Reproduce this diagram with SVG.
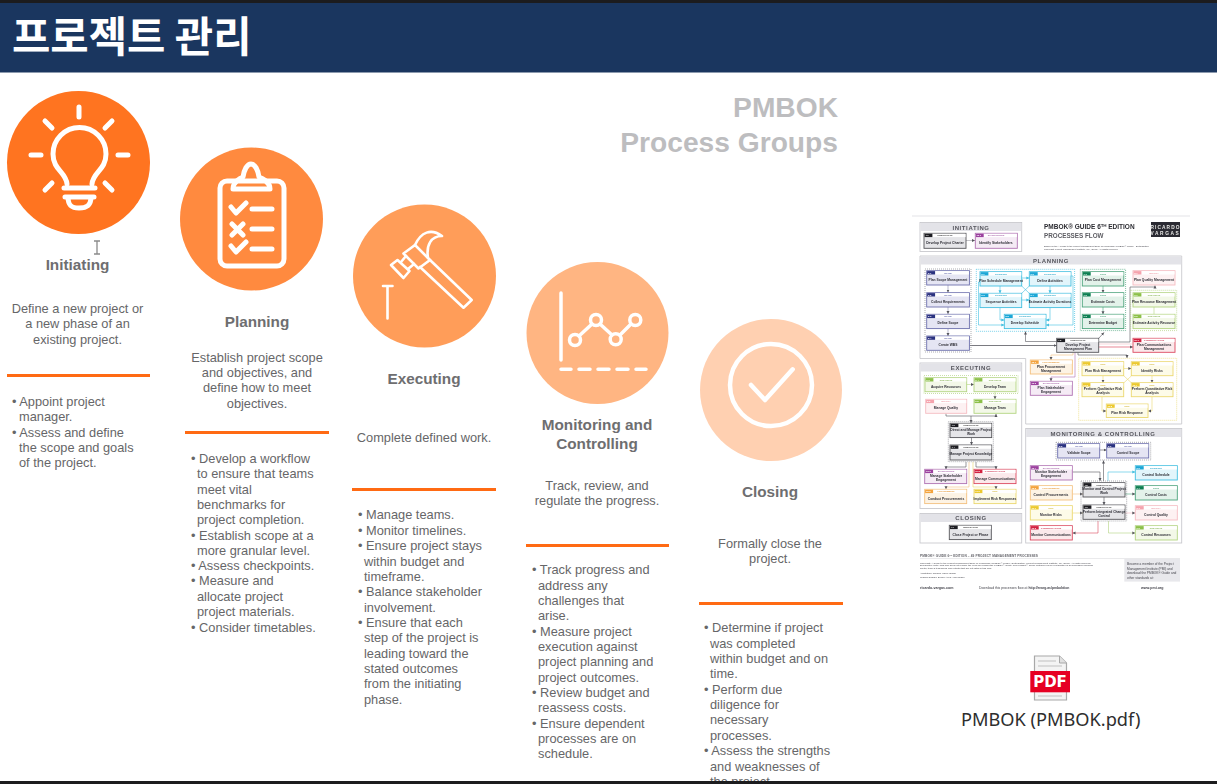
<svg xmlns="http://www.w3.org/2000/svg" width="1217" height="784" viewBox="0 0 1217 784">
<style>
text{font-family:"Liberation Sans",Arial,sans-serif}
.h1{font-size:15.3px;font-weight:700;fill:#6e6e70;text-anchor:middle}
.p{font-size:12.8px;fill:#666668;text-anchor:middle}
.l{font-size:12.8px;fill:#666668}
.rule{fill:#ff6a13}
.ic{fill:none;stroke:#fff;stroke-linecap:round;stroke-linejoin:round}
.pg{font-size:28.2px;font-weight:700;fill:#bdbdbf;text-anchor:end}
.pan{fill:#fff;stroke:#c9c9ce;stroke-width:.9}
.ph{fill:#e3e3e8}
.pt{font-size:6px;font-weight:700;fill:#55555c;text-anchor:middle;letter-spacing:.6px}
.dot{fill:none;stroke:#8a8a90;stroke-width:.7;stroke-dasharray:1 1}
.bx{stroke-width:.9}
.ln{fill:#fff;stroke:none}
.bl{font-size:3.3px;font-weight:700;fill:#2c2c34;text-anchor:middle}
.cat{font-size:2.2px;font-weight:700;text-anchor:middle}
.num{font-size:2.4px;font-weight:700;fill:#fff}
.c{fill:none;stroke-width:.6}
.scope .bx{fill:#e5e5f3;stroke:#6d70ad}.scope .tag{fill:#2c3180}.scope .cat{fill:#5a5fa8}
.sch .bx{fill:#e2f5fb;stroke:#42bfe0}.sch .tag{fill:#1ea7d6}.sch .cat{fill:#2aa5c8}
.cost .bx{fill:#e3f2ea;stroke:#4ca47c}.cost .tag{fill:#0f7f52}.cost .cat{fill:#3a9b6e}
.qual .bx{fill:#fdf1f2;stroke:#f5bcc2}.qual .tag{fill:#f5a3ad}.qual .cat{fill:#ee9aa4}
.res .bx{fill:#f3f8e8;stroke:#b3d482}.res .tag{fill:#8cc04a}.res .cat{fill:#8cb85a}
.int .bx{fill:#e5e5e8;stroke:#55555a}.int .tag{fill:#1c1c20}.int .cat{fill:#333}
.com .bx{fill:#fbe9eb;stroke:#dc4a60}.com .tag{fill:#d2203f}.com .cat{fill:#d2405a}
.pro .bx{fill:#fdf3e4;stroke:#f3c07e}.pro .tag{fill:#f3a33c}.pro .cat{fill:#e79b3a}
.sta .bx{fill:#f5ebf5;stroke:#b071b2}.sta .tag{fill:#9b3f9e}.sta .cat{fill:#a45ea6}
.rsk .bx{fill:#fdfbe8;stroke:#ebd870}.rsk .tag{fill:#ecc92f}.rsk .cat{fill:#d4b93a}
.ft{font-size:3px;fill:#44444c}
.fb{font-size:3.6px;font-weight:700;fill:#44444c}
</style>
<defs>
<marker id="a" markerWidth="4" markerHeight="4" refX="3" refY="2" orient="auto" markerUnits="userSpaceOnUse"><path d="M0,0.5L3,2L0,3.5z" fill="#55555c"/></marker>
<marker id="ac" markerWidth="4" markerHeight="4" refX="3" refY="2" orient="auto" markerUnits="userSpaceOnUse"><path d="M0,0.5L3,2L0,3.5z" fill="#42bfe0"/></marker>
<filter id="soft" x="0" y="0" width="100%" height="100%"><feGaussianBlur stdDeviation="0.4"/></filter>
</defs>
<rect width="1217" height="784" fill="#fff"/>
<g id="title-bar">
<rect y="0" width="1217" height="3" fill="#1c1c1e"/>
<rect y="3" width="1217" height="69.500" fill="#1a365f"/>
<text x="12" y="52" font-size="41.700" font-weight="700" fill="#fff" style="font-family:'Noto Sans CJK KR','Noto Sans',sans-serif">프로젝트 관리</text>
</g>
<g id="pmbok-heading">
<text class="pg" x="838" y="117">PMBOK</text>
<text class="pg" x="838" y="152">Process Groups</text>
</g>

<g id="initiating">
<circle cx="78.500" cy="162.500" r="71.500" fill="#ff7420"/>
<g class="ic" stroke-width="5">
<path d="M79,107V117M31,155H41M118,155H128M45,121L52,128M112,121L105,128M45,190L52,183M112,190L105,183"/>
<path d="M67,184C66,172 53,170 53,154A26.500,26.500 0 1 1 106,154C106,170 93,172 92,184"/>
<path d="M64,188H95M65,197H94M68,197C68,206 72,208 79,208C86,208 91,206 91,197"/>
</g>
<path d="M94,241H100M97,241V254M94,254H100" fill="none" stroke="#8a8a8a" stroke-width="1.300"/>
<text class="h1" x="77.500" y="270">Initiating</text>
<text class="p" x="77.500" y="313">Define a new project or</text>
<text class="p" x="77.500" y="328">a new phase of an</text>
<text class="p" x="77.500" y="344">existing project.</text>
<rect class="rule" x="7" y="374" width="143" height="3"/>
<text class="l" x="12" y="406">• Appoint project</text>
<text class="l" x="19" y="421">manager.</text>
<text class="l" x="12" y="437">• Assess and define</text>
<text class="l" x="19" y="452">the scope and goals</text>
<text class="l" x="19" y="467">of the project.</text>
</g>

<g id="planning">
<circle cx="251.500" cy="219" r="71.500" fill="#ff8a3f"/>
<g class="ic" stroke-width="5">
<rect x="220" y="181" width="64" height="85" rx="7"/>
<path d="M233,189H270C270,182 262,178 259,177C258,170 255,164 251,164C247,164 244,170 243,177C240,178 233,182 233,189Z"/>
<path d="M231,207L236,213L246,203M252,209H272M232,224L243,235M243,224L232,235M252,229H272M231,246L236,252L246,242M252,249H272"/>
</g>
<text class="h1" x="257" y="327">Planning</text>
<text class="p" x="257" y="362">Establish project scope</text>
<text class="p" x="257" y="377">and objectives, and</text>
<text class="p" x="257" y="392">define how to meet</text>
<text class="p" x="257" y="408">objectives.</text>
<rect class="rule" x="185" y="431" width="144" height="3"/>
<text class="l" x="191" y="463">• Develop a workflow</text>
<text class="l" x="197" y="478">to ensure that teams</text>
<text class="l" x="197" y="494">meet vital</text>
<text class="l" x="197" y="509">benchmarks for</text>
<text class="l" x="197" y="524">project completion.</text>
<text class="l" x="191" y="540">• Establish scope at a</text>
<text class="l" x="197" y="555">more granular level.</text>
<text class="l" x="191" y="570">• Assess checkpoints.</text>
<text class="l" x="191" y="585">• Measure and</text>
<text class="l" x="197" y="601">allocate project</text>
<text class="l" x="197" y="616">project materials.</text>
<text class="l" x="191" y="632">• Consider timetables.</text>
</g>

<g id="executing">
<circle cx="424.500" cy="276" r="71.500" fill="#ff9d59"/>
<g class="ic" stroke-width="2.600">
<path d="M430,260L471.700,300L463.500,307.700L420,267"/>
<path d="M403.500,253.500L415,245L430,260L418.500,268.500Z"/>
<path d="M415,245C421,232 431,228 442,236C431,236 426,245 428,258"/>
<path d="M391,265L397.500,260L409.500,271L403.500,278Z"/>
<path d="M401,262L406,256M408,269L414,264"/>
<path d="M383,286H392.500M387.500,286V318.500"/>
</g>
<text class="h1" x="424" y="384">Executing</text>
<text class="p" x="424" y="442">Complete defined work.</text>
<rect class="rule" x="352" y="488" width="144" height="3"/>
<text class="l" x="358" y="519">• Manage teams.</text>
<text class="l" x="358" y="535">• Monitor timelines.</text>
<text class="l" x="358" y="550">• Ensure project stays</text>
<text class="l" x="364" y="566">within budget and</text>
<text class="l" x="364" y="581">timeframe.</text>
<text class="l" x="358" y="596">• Balance stakeholder</text>
<text class="l" x="364" y="612">involvement.</text>
<text class="l" x="358" y="627">• Ensure that each</text>
<text class="l" x="364" y="642">step of the project is</text>
<text class="l" x="364" y="658">leading toward the</text>
<text class="l" x="364" y="673">stated outcomes</text>
<text class="l" x="364" y="688">from the initiating</text>
<text class="l" x="364" y="704">phase.</text>
</g>

<g id="monitoring">
<circle cx="597.500" cy="333" r="71" fill="#ffb582"/>
<g class="ic" stroke-width="3.500">
<path d="M561,293V360"/>
<path d="M561,369.300H571M579,369.300H590M598,369.300H609M617,369.300H628M636,369.300H646"/>
<circle cx="575" cy="340" r="5.500"/><circle cx="596" cy="320" r="5.500"/><circle cx="615.700" cy="339.300" r="5.500"/><circle cx="635.300" cy="320" r="5.500"/>
<path d="M579,336L592,324M600,324L612,335M620,335L631,324"/>
</g>
<text class="h1" x="597" y="430">Monitoring and</text>
<text class="h1" x="597" y="449">Controlling</text>
<text class="p" x="597" y="490">Track, review, and</text>
<text class="p" x="597" y="505">regulate the progress.</text>
<rect class="rule" x="526" y="544" width="143" height="3"/>
<text class="l" x="532" y="574">• Track progress and</text>
<text class="l" x="538" y="590">address any</text>
<text class="l" x="538" y="605">challenges that</text>
<text class="l" x="538" y="620">arise.</text>
<text class="l" x="532" y="636">• Measure project</text>
<text class="l" x="538" y="651">execution against</text>
<text class="l" x="538" y="666">project planning and</text>
<text class="l" x="538" y="682">project outcomes.</text>
<text class="l" x="532" y="697">• Review budget and</text>
<text class="l" x="538" y="712">reassess costs.</text>
<text class="l" x="532" y="728">• Ensure dependent</text>
<text class="l" x="538" y="743">processes are on</text>
<text class="l" x="538" y="758">schedule.</text>
</g>

<g id="closing">
<circle cx="771" cy="390" r="71" fill="#ffd0b1"/>
<g class="ic">
<circle cx="771" cy="385" r="41" stroke-width="4.500"/>
<path d="M751,385L765,400L792.700,369.300" stroke-width="4.500"/>
</g>
<text class="h1" x="770" y="497">Closing</text>
<text class="p" x="770" y="548">Formally close the</text>
<text class="p" x="770" y="563">project.</text>
<rect class="rule" x="699" y="602" width="144" height="3"/>
<text class="l" x="704" y="632">• Determine if project</text>
<text class="l" x="710" y="648">was completed</text>
<text class="l" x="710" y="663">within budget and on</text>
<text class="l" x="710" y="678">time.</text>
<text class="l" x="704" y="694">• Perform due</text>
<text class="l" x="710" y="709">diligence for</text>
<text class="l" x="710" y="724">necessary</text>
<text class="l" x="710" y="740">processes.</text>
<text class="l" x="704" y="755">• Assess the strengths</text>
<text class="l" x="710" y="771">and weaknesses of</text>
<text class="l" x="710" y="786">the project.</text>
</g>

<g id="flow-chart" filter="url(#soft)">
<rect x="912" y="215" width="278" height="385" fill="#fff"/>
<rect x="912" y="215" width="278" height="2" fill="#f1f1f3"/>
<g id="panels">
<rect class="pan" x="920" y="222.500" width="101.700" height="29"/><rect class="ph" x="920.500" y="223" width="100.700" height="8"/>
<text class="pt" x="971" y="229.500">INITIATING</text>
<path class="pan" d="M920,256H1181.700V424H1025.700V358.500H920Z"/><rect class="ph" x="920.500" y="256.500" width="260.700" height="8"/>
<text class="pt" x="1051" y="262.700">PLANNING</text>
<rect class="pan" x="920" y="363" width="101.700" height="145.500"/><rect class="ph" x="920.500" y="363.500" width="100.700" height="8"/>
<text class="pt" x="971" y="369.700">EXECUTING</text>
<rect class="pan" x="1025.700" y="428.500" width="156" height="114.500"/><rect class="ph" x="1026.200" y="429" width="155" height="8"/>
<text class="pt" x="1103" y="435.500">MONITORING &amp; CONTROLLING</text>
<rect class="pan" x="920" y="513.500" width="101.700" height="29.500"/><rect class="ph" x="920.500" y="514" width="100.700" height="8"/>
<text class="pt" x="971" y="520.300">CLOSING</text>
</g>
<g id="doc-title">
<text x="1044" y="229" font-size="6.500" font-weight="700" fill="#2c2c32">PMBOK® GUIDE 6ᵀᴴ EDITION</text>
<text x="1044" y="237.500" font-size="6.300" font-weight="700" fill="#5c5c62">PROCESSES FLOW</text>
<text class="ft" x="1044" y="247" style="font-size:2.300px">Based on the A Guide to the Project Management Body of Knowledge (PMBOK® Guide) - Sixth Edition.</text>
<text class="ft" x="1044" y="250" style="font-size:2.300px">Copyright: Project Management Institute, Inc., (2017). All rights reserved.</text>
<rect x="1151" y="222" width="29" height="15" fill="#2b2b30"/>
<text x="1165.500" y="228.500" font-size="4.800" font-weight="700" fill="#e8e8e8" text-anchor="middle" letter-spacing="1.100">RICARDO</text>
<text x="1165.500" y="235" font-size="4.800" font-weight="700" fill="#e8e8e8" text-anchor="middle" letter-spacing="1.600">VARGAS</text>
</g>
<g id="connectors">
<path class="c" stroke="#9a9aa2" d="M966,240.500H975" marker-end="url(#a)"/>
<path class="c" stroke="#8a8ab0" d="M948,285V292.500" marker-end="url(#a)"/>
<path class="c" stroke="#8a8ab0" d="M948,307V314" marker-end="url(#a)"/>
<path class="c" stroke="#8a8ab0" d="M948,329V336" marker-end="url(#a)"/>
<path class="c" stroke="#7a7a80" style="stroke-width:1" d="M969.500,345.500H1056.700" marker-end="url(#a)"/>
<path class="c" stroke="#42bfe0" d="M1021.700,278H1029.300" marker-end="url(#ac)"/>
<path class="c" stroke="#42bfe0" d="M1021.700,300H1029.300" marker-end="url(#ac)"/>
<path class="c" stroke="#42bfe0" d="M1000,286V293.300" marker-end="url(#ac)"/>
<path class="c" stroke="#42bfe0" d="M1050,286V293.300" marker-end="url(#ac)"/>
<path class="c" stroke="#42bfe0" d="M1021.700,286L1029.300,293.300M1029.300,286L1021.700,293.300"/>
<path class="c" stroke="#42bfe0" d="M980,282H978.500V325H1004.300" marker-end="url(#ac)"/>
<path class="c" stroke="#42bfe0" d="M1000,307.500V320H1004.300" marker-end="url(#ac)"/>
<path class="c" stroke="#42bfe0" d="M1050,307.500V320H1046" marker-end="url(#ac)"/>
<path class="c" stroke="#42bfe0" d="M1071,276H1073V325H1046" marker-end="url(#ac)"/>
<path class="c" stroke="#4ca47c" d="M1103,286V292.700" marker-end="url(#a)"/>
<path class="c" stroke="#4ca47c" d="M1103,307V314.300" marker-end="url(#a)"/>
<path class="c" stroke="#b3d482" d="M1154,307V314.300"/>
<path class="c" stroke="#55555c" d="M1056.700,341.500H1025.500V331.500" marker-end="url(#a)"/>
<path class="c" stroke="#55555c" d="M1099,338L1104,332.500" marker-end="url(#a)"/>
<path class="c" stroke="#55555c" d="M1098.700,342H1130V287H1155V285.500" marker-end="url(#a)"/>
<path class="c" stroke="#d8384f" d="M1098.700,347H1133" marker-end="url(#a)"/>
<path class="c" stroke="#f5bcc2" d="M1098.700,344H1132"/>
<path class="c" stroke="#f3c07e" d="M1073,352.500V355H1051V360" marker-end="url(#a)"/>
<path class="c" stroke="#b071b2" d="M1075,352.500V377H1051V381.300" marker-end="url(#a)"/>
<path class="c" stroke="#55555c" d="M1078,352.500V355H1127V358" marker-end="url(#a)"/>
<path class="c" stroke="#ebd870" d="M1124,368.500H1131.300" marker-end="url(#a)"/>
<path class="c" stroke="#ebd870" d="M1124,376L1131.300,382.700M1131.300,376L1124,382.700"/>
<path class="c" stroke="#ebd870" d="M1103,376V382.700" marker-end="url(#a)"/>
<path class="c" stroke="#ebd870" d="M1152,376V382.700" marker-end="url(#a)"/>
<path class="c" stroke="#ebd870" d="M1102,397V411H1106.300" marker-end="url(#a)"/>
<path class="c" stroke="#ebd870" d="M1152,397V411H1148" marker-end="url(#a)"/>
<path class="c" stroke="#b3d482" d="M966,384.500H974" marker-end="url(#a)"/>
<path class="c" stroke="#b3d482" d="M995,392V399.300" marker-end="url(#a)"/>
<path class="c" stroke="#55555c" d="M946,413.500V416H996V414" marker-end="url(#a)"/>
<path class="c" stroke="#55555c" d="M971,416V423" marker-end="url(#a)"/>
<path class="c" stroke="#55555c" d="M971.500,437.500V445" marker-end="url(#a)"/>
<path class="c" stroke="#55555c" d="M966,462V467H946V469.300" marker-end="url(#a)"/>
<path class="c" stroke="#55555c" d="M976,462V467H996V469.300" marker-end="url(#a)"/>
<path class="c" stroke="#f3c07e" d="M969,462V487H946V489.300" marker-end="url(#a)"/>
<path class="c" stroke="#ebd870" d="M973,462V487H996V489.300" marker-end="url(#a)"/>
<path class="c" stroke="#55555c" d="M1099.700,450H1106.700" marker-end="url(#a)"/>
<path class="c" stroke="#55555c" d="M1103.500,481V460.500" marker-end="url(#a)"/>
<path class="c" stroke="#55555c" d="M1072.500,472H1100V481" marker-end="url(#a)"/>
<path class="c" stroke="#42bfe0" d="M1108,481V472H1135.300" marker-end="url(#ac)"/>
<path class="c" stroke="#f3c07e" d="M1072.500,494H1083" marker-end="url(#a)"/>
<path class="c" stroke="#4ca47c" d="M1125,494H1135.300" marker-end="url(#a)"/>
<path class="c" stroke="#55555c" d="M1104,497V505" marker-end="url(#a)"/>
<path class="c" stroke="#ebd870" d="M1072.500,513H1083" marker-end="url(#a)"/>
<path class="c" stroke="#f5bcc2" d="M1125,513H1135.300" marker-end="url(#a)"/>
<path class="c" stroke="#dc4a60" d="M1098,521V533H1072.500" marker-end="url(#a)"/>
<path class="c" stroke="#b3d482" d="M1108.500,521V533H1135.300" marker-end="url(#a)"/>
</g>

<g class="scope" id="plan-scope"><rect class="bx" x="926.700" y="270.700" width="42.700" height="14.300"/><rect class="ln" x="927.100" y="271.100" width="41.900" height="3.400"/><rect class="tag" x="927.100" y="271.100" width="8" height="3.400"/><text class="num" x="928" y="273.800">5.1</text><text class="cat" x="948" y="273.800">SCOPE</text><text class="bl" x="948" y="280.800">Plan Scope Management</text></g>
<g class="scope" id="collect-req"><rect class="bx" x="926.700" y="292.700" width="42.700" height="14.300"/><rect class="ln" x="927.100" y="293.100" width="41.900" height="3.400"/><rect class="tag" x="927.100" y="293.100" width="8" height="3.400"/><text class="num" x="928" y="295.800">5.2</text><text class="cat" x="948" y="295.800">SCOPE</text><text class="bl" x="948" y="302.800">Collect Requirements</text></g>
<g class="scope" id="define-scope"><rect class="bx" x="926.700" y="314.300" width="42.700" height="14.300"/><rect class="ln" x="927.100" y="314.700" width="41.900" height="3.400"/><rect class="tag" x="927.100" y="314.700" width="8" height="3.400"/><text class="num" x="928" y="317.400">5.3</text><text class="cat" x="948" y="317.400">SCOPE</text><text class="bl" x="948" y="324.400">Define Scope</text></g>
<g class="scope" id="create-wbs"><rect class="bx" x="926.700" y="336" width="42.700" height="14.300"/><rect class="ln" x="927.100" y="336.400" width="41.900" height="3.400"/><rect class="tag" x="927.100" y="336.400" width="8" height="3.400"/><text class="num" x="928" y="339.100">5.4</text><text class="cat" x="948" y="339.100">SCOPE</text><text class="bl" x="948" y="346.100">Create WBS</text></g>
<rect class="dot" x="925" y="269" width="46" height="83"/>

<rect class="dot" x="976.300" y="269.300" width="98.300" height="62" style="stroke:#42bfe0"/>
<g class="sch" id="plan-schedule"><rect class="bx" x="980" y="271.700" width="41.700" height="14.300"/><rect class="ln" x="980.400" y="272.100" width="40.900" height="3.400"/><rect class="tag" x="980.400" y="272.100" width="8" height="3.400"/><text class="num" x="981.200" y="274.800">6.1</text><text class="cat" x="1001" y="274.800">SCHEDULE</text><text class="bl" x="1001" y="281.800">Plan Schedule Management</text></g>
<g class="sch" id="define-activities"><rect class="bx" x="1029.300" y="271.700" width="41.700" height="14.300"/><rect class="ln" x="1029.700" y="272.100" width="40.900" height="3.400"/><rect class="tag" x="1029.700" y="272.100" width="8" height="3.400"/><text class="num" x="1030.500" y="274.800">6.2</text><text class="cat" x="1050" y="274.800">SCHEDULE</text><text class="bl" x="1050" y="281.800">Define Activities</text></g>
<g class="sch" id="sequence-activities"><rect class="bx" x="980" y="293.300" width="41.700" height="14.300"/><rect class="ln" x="980.400" y="293.700" width="40.900" height="3.400"/><rect class="tag" x="980.400" y="293.700" width="8" height="3.400"/><text class="num" x="981.200" y="296.400">6.3</text><text class="cat" x="1001" y="296.400">SCHEDULE</text><text class="bl" x="1001" y="303.400">Sequence Activities</text></g>
<g class="sch" id="estimate-durations"><rect class="bx" x="1029.300" y="293.300" width="41.700" height="14.300"/><rect class="ln" x="1029.700" y="293.700" width="40.900" height="3.400"/><rect class="tag" x="1029.700" y="293.700" width="8" height="3.400"/><text class="num" x="1030.500" y="296.400">6.4</text><text class="cat" x="1050" y="296.400">SCHEDULE</text><text class="bl" x="1050" y="303.400">Estimate Activity Durations</text></g>
<g class="sch" id="develop-schedule"><rect class="bx" x="1004.300" y="314.300" width="41.700" height="14.300"/><rect class="ln" x="1004.700" y="314.700" width="40.900" height="3.400"/><rect class="tag" x="1004.700" y="314.700" width="8" height="3.400"/><text class="num" x="1005.500" y="317.400">6.5</text><text class="cat" x="1025" y="317.400">SCHEDULE</text><text class="bl" x="1025" y="324.400">Develop Schedule</text></g>

<rect class="dot" x="1080.300" y="269.300" width="45.300" height="61.300" style="stroke:#4ca47c"/>
<g class="cost" id="plan-cost"><rect class="bx" x="1082.300" y="271.700" width="41.500" height="14.300"/><rect class="ln" x="1082.700" y="272.100" width="40.700" height="3.400"/><rect class="tag" x="1082.700" y="272.100" width="8" height="3.400"/><text class="num" x="1083.500" y="274.800">7.1</text><text class="cat" x="1103" y="274.800">COST</text><text class="bl" x="1103" y="280.800">Plan Cost Management</text></g>
<g class="cost" id="estimate-costs"><rect class="bx" x="1082.300" y="292.700" width="41.500" height="14.300"/><rect class="ln" x="1082.700" y="293.100" width="40.700" height="3.400"/><rect class="tag" x="1082.700" y="293.100" width="8" height="3.400"/><text class="num" x="1083.500" y="295.800">7.2</text><text class="cat" x="1103" y="295.800">COST</text><text class="bl" x="1103" y="302.800">Estimate Costs</text></g>
<g class="cost" id="determine-budget"><rect class="bx" x="1082.300" y="314.300" width="41.500" height="14.300"/><rect class="ln" x="1082.700" y="314.700" width="40.700" height="3.400"/><rect class="tag" x="1082.700" y="314.700" width="8" height="3.400"/><text class="num" x="1083.500" y="317.400">7.3</text><text class="cat" x="1103" y="317.400">COST</text><text class="bl" x="1103" y="324.400">Determine Budget</text></g>

<g class="qual" id="plan-quality"><rect class="bx" x="1133" y="270.700" width="42" height="14.300"/><rect class="ln" x="1133.400" y="271.100" width="41.200" height="3.400"/><rect class="tag" x="1133.400" y="271.100" width="8" height="3.400"/><text class="num" x="1134.200" y="273.800">8.1</text><text class="cat" x="1154" y="273.800">QUALITY</text><text class="bl" x="1154" y="280.800">Plan Quality Management</text></g>
<rect class="dot" x="1130.700" y="290.300" width="46" height="40.300" style="stroke:#b3d482"/>
<g class="res" id="plan-resource"><rect class="bx" x="1133" y="292.700" width="42" height="14.300"/><rect class="ln" x="1133.400" y="293.100" width="41.200" height="3.400"/><rect class="tag" x="1133.400" y="293.100" width="8" height="3.400"/><text class="num" x="1134.200" y="295.800">9.1</text><text class="cat" x="1154" y="295.800">RESOURCE</text><text class="bl" x="1154" y="302.800">Plan Resource Management</text></g>
<g class="res" id="estimate-resources"><rect class="bx" x="1133" y="314.300" width="42" height="14.300"/><rect class="ln" x="1133.400" y="314.700" width="41.200" height="3.400"/><rect class="tag" x="1133.400" y="314.700" width="8" height="3.400"/><text class="num" x="1134.200" y="317.400">9.2</text><text class="cat" x="1154" y="317.400">RESOURCE</text><text class="bl" x="1154" y="324.400">Estimate Activity Resource</text></g>

<g class="int" id="develop-pmp"><rect class="bx" x="1056.700" y="338.300" width="42" height="14"/><rect class="ln" x="1057.100" y="338.700" width="41.200" height="3.400"/><rect class="tag" x="1057.100" y="338.700" width="8" height="3.400"/><text class="num" x="1057.900" y="341.400">4.2</text><text class="cat" x="1078" y="341.400">INTEGRATION</text><text class="bl" x="1078" y="345.800">Develop Project</text><text class="bl" x="1078" y="349.800">Management Plan</text></g>
<g class="com" id="plan-comms"><rect class="bx" x="1133" y="338.300" width="42" height="14"/><rect class="ln" x="1133.400" y="338.700" width="41.200" height="3.400"/><rect class="tag" x="1133.400" y="338.700" width="8" height="3.400"/><text class="num" x="1134.200" y="341.400">10.1</text><text class="cat" x="1154" y="341.400">COMMUNICATIONS</text><text class="bl" x="1154" y="345.800">Plan Communications</text><text class="bl" x="1154" y="349.800">Management</text></g>
<g class="pro" id="plan-procurement"><rect class="bx" x="1030.300" y="360" width="42" height="14"/><rect class="ln" x="1030.700" y="360.400" width="41.200" height="3.400"/><rect class="tag" x="1030.700" y="360.400" width="8" height="3.400"/><text class="num" x="1031.500" y="363.100">12.1</text><text class="cat" x="1051" y="363.100">PROCUREMENT</text><text class="bl" x="1051" y="367.500">Plan Procurement</text><text class="bl" x="1051" y="371.500">Management</text></g>
<g class="sta" id="plan-stakeholder"><rect class="bx" x="1030.300" y="381.300" width="42" height="14"/><rect class="ln" x="1030.700" y="381.700" width="41.200" height="3.400"/><rect class="tag" x="1030.700" y="381.700" width="8" height="3.400"/><text class="num" x="1031.500" y="384.400">13.2</text><text class="cat" x="1051" y="384.400">STAKEHOLDER</text><text class="bl" x="1051" y="388.800">Plan Stakeholder</text><text class="bl" x="1051" y="392.800">Engagement</text></g>

<rect class="dot" x="1078.700" y="358.300" width="98" height="62" style="stroke:#ebd870"/>
<g class="rsk" id="plan-risk"><rect class="bx" x="1082" y="361.700" width="41.700" height="14"/><rect class="ln" x="1082.400" y="362.100" width="40.900" height="3.400"/><rect class="tag" x="1082.400" y="362.100" width="8" height="3.400"/><text class="num" x="1083.200" y="364.800">11.1</text><text class="cat" x="1103" y="364.800">RISK</text><text class="bl" x="1103" y="371.500">Plan Risk Management</text></g>
<g class="rsk" id="identify-risks"><rect class="bx" x="1131.300" y="361.700" width="41.700" height="14"/><rect class="ln" x="1131.700" y="362.100" width="40.900" height="3.400"/><rect class="tag" x="1131.700" y="362.100" width="8" height="3.400"/><text class="num" x="1132.500" y="364.800">11.2</text><text class="cat" x="1152" y="364.800">RISK</text><text class="bl" x="1152" y="371.500">Identify Risks</text></g>
<g class="rsk" id="qual-risk"><rect class="bx" x="1082" y="382.700" width="41.700" height="14"/><rect class="ln" x="1082.400" y="383.100" width="40.900" height="3.400"/><rect class="tag" x="1082.400" y="383.100" width="8" height="3.400"/><text class="num" x="1083.200" y="385.800">11.3</text><text class="cat" x="1103" y="385.800">RISK</text><text class="bl" x="1103" y="390.200">Perform Qualitative Risk</text><text class="bl" x="1103" y="394.200">Analysis</text></g>
<g class="rsk" id="quant-risk"><rect class="bx" x="1131.300" y="382.700" width="41.700" height="14"/><rect class="ln" x="1131.700" y="383.100" width="40.900" height="3.400"/><rect class="tag" x="1131.700" y="383.100" width="8" height="3.400"/><text class="num" x="1132.500" y="385.800">11.4</text><text class="cat" x="1152" y="385.800">RISK</text><text class="bl" x="1152" y="390.200">Perform Quantitative Risk</text><text class="bl" x="1152" y="394.200">Analysis</text></g>
<g class="rsk" id="plan-responses"><rect class="bx" x="1106.300" y="404" width="41.700" height="13.500"/><rect class="ln" x="1106.700" y="404.400" width="40.900" height="3.400"/><rect class="tag" x="1106.700" y="404.400" width="8" height="3.400"/><text class="num" x="1107.500" y="407.100">11.5</text><text class="cat" x="1127" y="407.100">RISK</text><text class="bl" x="1127" y="413.500">Plan Risk Response</text></g>

<rect class="dot" x="924" y="375.500" width="94" height="18" style="stroke:#b3d482"/>
<g class="res" id="acquire-resources"><rect class="bx" x="925" y="377.700" width="41.700" height="14"/><rect class="ln" x="925.400" y="378.100" width="40.900" height="3.400"/><rect class="tag" x="925.400" y="378.100" width="8" height="3.400"/><text class="num" x="926.200" y="380.800">9.3</text><text class="cat" x="946" y="380.800">RESOURCE</text><text class="bl" x="946" y="387.500">Acquire Resources</text></g>
<g class="res" id="develop-team"><rect class="bx" x="974" y="377.700" width="42" height="14"/><rect class="ln" x="974.400" y="378.100" width="41.200" height="3.400"/><rect class="tag" x="974.400" y="378.100" width="8" height="3.400"/><text class="num" x="975.200" y="380.800">9.4</text><text class="cat" x="995" y="380.800">RESOURCE</text><text class="bl" x="995" y="387.500">Develop Team</text></g>
<g class="qual" id="manage-quality"><rect class="bx" x="925.700" y="399.300" width="41" height="14"/><rect class="ln" x="926.100" y="399.700" width="40.200" height="3.400"/><rect class="tag" x="926.100" y="399.700" width="8" height="3.400"/><text class="num" x="926.900" y="402.400">8.2</text><text class="cat" x="946" y="402.400">QUALITY</text><text class="bl" x="946" y="409">Manage Quality</text></g>
<g class="res" id="manage-team"><rect class="bx" x="974" y="399.300" width="42" height="14"/><rect class="ln" x="974.400" y="399.700" width="41.200" height="3.400"/><rect class="tag" x="974.400" y="399.700" width="8" height="3.400"/><text class="num" x="975.200" y="402.400">9.5</text><text class="cat" x="995" y="402.400">RESOURCE</text><text class="bl" x="995" y="409">Manage Team</text></g>
<rect class="dot" x="948.300" y="421.700" width="45" height="40"/>
<g class="int" id="direct-manage"><rect class="bx" x="950" y="423.300" width="41.700" height="14.300"/><rect class="ln" x="950.400" y="423.700" width="40.900" height="3.400"/><rect class="tag" x="950.400" y="423.700" width="8" height="3.400"/><text class="num" x="951.200" y="426.400">4.3</text><text class="cat" x="971" y="426.400">INTEGRATION</text><text class="bl" x="971" y="431">Direct and Manage Project</text><text class="bl" x="971" y="435">Work</text></g>
<g class="int" id="manage-knowledge"><rect class="bx" x="950" y="445" width="41.700" height="15"/><rect class="ln" x="950.400" y="445.400" width="40.900" height="3.400"/><rect class="tag" x="950.400" y="445.400" width="8" height="3.400"/><text class="num" x="951.200" y="448.100">4.4</text><text class="cat" x="971" y="448.100">INTEGRATION</text><text class="bl" x="971" y="455">Manage Project Knowledge</text></g>
<g class="sta" id="manage-stakeholder"><rect class="bx" x="924.700" y="469.300" width="42" height="14.300"/><rect class="ln" x="925.100" y="469.700" width="41.200" height="3.400"/><rect class="tag" x="925.100" y="469.700" width="8" height="3.400"/><text class="num" x="925.900" y="472.400">13.3</text><text class="cat" x="946" y="472.400">STAKEHOLDER</text><text class="bl" x="946" y="477">Manage Stakeholder</text><text class="bl" x="946" y="481">Engagement</text></g>
<g class="com" id="manage-comms"><rect class="bx" x="974" y="469.300" width="42" height="14.300"/><rect class="ln" x="974.400" y="469.700" width="41.200" height="3.400"/><rect class="tag" x="974.400" y="469.700" width="8" height="3.400"/><text class="num" x="975.200" y="472.400">10.2</text><text class="cat" x="995" y="472.400">COMMUNICATIONS</text><text class="bl" x="995" y="479.500">Manage Communications</text></g>
<g class="pro" id="conduct-procurements"><rect class="bx" x="924.700" y="489.300" width="42" height="14.300"/><rect class="ln" x="925.100" y="489.700" width="41.200" height="3.400"/><rect class="tag" x="925.100" y="489.700" width="8" height="3.400"/><text class="num" x="925.900" y="492.400">12.2</text><text class="cat" x="946" y="492.400">PROCUREMENT</text><text class="bl" x="946" y="499.500">Conduct Procurements</text></g>
<g class="rsk" id="implement-risk"><rect class="bx" x="974" y="489.300" width="42" height="14.300"/><rect class="ln" x="974.400" y="489.700" width="41.200" height="3.400"/><rect class="tag" x="974.400" y="489.700" width="8" height="3.400"/><text class="num" x="975.200" y="492.400">11.6</text><text class="cat" x="995" y="492.400">RISK</text><text class="bl" x="995" y="499.500">Implement Risk Responses</text></g>
<g class="int" id="close-project"><rect class="bx" x="949.300" y="525.300" width="42" height="14.300"/><rect class="ln" x="949.700" y="525.700" width="41.200" height="3.400"/><rect class="tag" x="949.700" y="525.700" width="8" height="3.400"/><text class="num" x="950.500" y="528.400">4.7</text><text class="cat" x="970.500" y="528.400">INTEGRATION</text><text class="bl" x="970.500" y="535.500">Close Project or Phase</text></g>
<g class="int" id="develop-charter"><rect class="bx" x="924" y="233.300" width="42" height="15"/><rect class="ln" x="924.400" y="233.700" width="41.200" height="3.400"/><rect class="tag" x="924.400" y="233.700" width="8" height="3.400"/><text class="num" x="925.200" y="236.400">4.1</text><text class="cat" x="945" y="236.400">INTEGRATION</text><text class="bl" x="945" y="243.500">Develop Project Charter</text></g>
<g class="sta" id="identify-stakeholders"><rect class="bx" x="975.300" y="233.300" width="42" height="15"/><rect class="ln" x="975.700" y="233.700" width="41.200" height="3.400"/><rect class="tag" x="975.700" y="233.700" width="8" height="3.400"/><text class="num" x="976.500" y="236.400">13.1</text><text class="cat" x="996" y="236.400">STAKEHOLDER</text><text class="bl" x="996" y="243.500">Identify Stakeholders</text></g>

<rect class="dot" x="1056" y="442.300" width="94.700" height="17.700"/>
<g class="scope" id="validate-scope"><rect class="bx" x="1057.700" y="443.700" width="42" height="14.300"/><rect class="ln" x="1058.100" y="444.100" width="41.200" height="3.400"/><rect class="tag" x="1058.100" y="444.100" width="8" height="3.400"/><text class="num" x="1058.900" y="446.800">5.5</text><text class="cat" x="1079" y="446.800">SCOPE</text><text class="bl" x="1079" y="453.500">Validate Scope</text></g>
<g class="scope" id="control-scope"><rect class="bx" x="1106.700" y="443.700" width="42" height="14.300"/><rect class="ln" x="1107.100" y="444.100" width="41.200" height="3.400"/><rect class="tag" x="1107.100" y="444.100" width="8" height="3.400"/><text class="num" x="1107.900" y="446.800">5.6</text><text class="cat" x="1128" y="446.800">SCOPE</text><text class="bl" x="1128" y="453.500">Control Scope</text></g>
<g class="sta" id="monitor-stakeholder"><rect class="bx" x="1030.300" y="465.700" width="42" height="14.300"/><rect class="ln" x="1030.700" y="466.100" width="41.200" height="3.400"/><rect class="tag" x="1030.700" y="466.100" width="8" height="3.400"/><text class="num" x="1031.500" y="468.800">13.4</text><text class="cat" x="1051" y="468.800">STAKEHOLDER</text><text class="bl" x="1051" y="473.300">Monitor Stakeholder</text><text class="bl" x="1051" y="477.300">Engagement</text></g>
<g class="sch" id="control-schedule"><rect class="bx" x="1135.300" y="465.700" width="42" height="14.300"/><rect class="ln" x="1135.700" y="466.100" width="41.200" height="3.400"/><rect class="tag" x="1135.700" y="466.100" width="8" height="3.400"/><text class="num" x="1136.500" y="468.800">6.6</text><text class="cat" x="1156" y="468.800">SCHEDULE</text><text class="bl" x="1156" y="475.500">Control Schedule</text></g>
<g class="pro" id="control-procurements"><rect class="bx" x="1030.300" y="485.700" width="42" height="14.300"/><rect class="ln" x="1030.700" y="486.100" width="41.200" height="3.400"/><rect class="tag" x="1030.700" y="486.100" width="8" height="3.400"/><text class="num" x="1031.500" y="488.800">12.3</text><text class="cat" x="1051" y="488.800">PROCUREMENT</text><text class="bl" x="1051" y="495.500">Control Procurements</text></g>
<g class="cost" id="control-costs"><rect class="bx" x="1135.300" y="485.700" width="42" height="14.300"/><rect class="ln" x="1135.700" y="486.100" width="41.200" height="3.400"/><rect class="tag" x="1135.700" y="486.100" width="8" height="3.400"/><text class="num" x="1136.500" y="488.800">7.4</text><text class="cat" x="1156" y="488.800">COST</text><text class="bl" x="1156" y="495.500">Control Costs</text></g>
<g class="rsk" id="monitor-risks"><rect class="bx" x="1030.300" y="505.700" width="42" height="14.300"/><rect class="ln" x="1030.700" y="506.100" width="41.200" height="3.400"/><rect class="tag" x="1030.700" y="506.100" width="8" height="3.400"/><text class="num" x="1031.500" y="508.800">11.7</text><text class="cat" x="1051" y="508.800">RISK</text><text class="bl" x="1051" y="515.500">Monitor Risks</text></g>
<g class="qual" id="control-quality"><rect class="bx" x="1135.300" y="505.700" width="42" height="14.300"/><rect class="ln" x="1135.700" y="506.100" width="41.200" height="3.400"/><rect class="tag" x="1135.700" y="506.100" width="8" height="3.400"/><text class="num" x="1136.500" y="508.800">8.3</text><text class="cat" x="1156" y="508.800">QUALITY</text><text class="bl" x="1156" y="515.500">Control Quality</text></g>
<g class="com" id="monitor-comms"><rect class="bx" x="1030.300" y="525.700" width="42" height="14.300"/><rect class="ln" x="1030.700" y="526.100" width="41.200" height="3.400"/><rect class="tag" x="1030.700" y="526.100" width="8" height="3.400"/><text class="num" x="1031.500" y="528.800">10.3</text><text class="cat" x="1051" y="528.800">COMMUNICATIONS</text><text class="bl" x="1051" y="535.500">Monitor Communications</text></g>
<g class="res" id="control-resources"><rect class="bx" x="1135.300" y="525.700" width="42" height="14.300"/><rect class="ln" x="1135.700" y="526.100" width="41.200" height="3.400"/><rect class="tag" x="1135.700" y="526.100" width="8" height="3.400"/><text class="num" x="1136.500" y="528.800">9.6</text><text class="cat" x="1156" y="528.800">RESOURCE</text><text class="bl" x="1156" y="535.500">Control Resources</text></g>
<rect class="dot" x="1081" y="481" width="45.700" height="40"/>
<g class="int" id="monitor-control"><rect class="bx" x="1083" y="482.700" width="42" height="14.300"/><rect class="ln" x="1083.400" y="483.100" width="41.200" height="3.400"/><rect class="tag" x="1083.400" y="483.100" width="8" height="3.400"/><text class="num" x="1084.200" y="485.800">4.5</text><text class="cat" x="1104" y="485.800">INTEGRATION</text><text class="bl" x="1104" y="490.300">Monitor and Control Project</text><text class="bl" x="1104" y="494.300">Work</text></g>
<g class="int" id="change-control"><rect class="bx" x="1083" y="505" width="42" height="14.300"/><rect class="ln" x="1083.400" y="505.400" width="41.200" height="3.400"/><rect class="tag" x="1083.400" y="505.400" width="8" height="3.400"/><text class="num" x="1084.200" y="508.100">4.6</text><text class="cat" x="1104" y="508.100">INTEGRATION</text><text class="bl" x="1104" y="512.600">Perform Integrated Change</text><text class="bl" x="1104" y="516.600">Control</text></g>

<g id="doc-footer">
<text x="920" y="557" font-size="3.200" font-weight="700" fill="#66666c" letter-spacing=".1">PMBOK® GUIDE 6ᵀᴴ EDITION – 49 PROJECT MANAGEMENT PROCESSES</text>
<rect x="920" y="558" width="260" height=".6" fill="#dcdce0"/>
<text class="ft" x="920" y="563.500" style="font-size:2.400px">Copyright: A Guide to the Project Management Body of Knowledge (PMBOK® Guide), Sixth Edition, Project Management Institute, Inc. (2017). All rights reserved.</text>
<text class="ft" x="920" y="566.300" style="font-size:2.400px">Explanatory Note: This flow does not replace the need for reading the PMBOK® Guide. The PMBOK® Guide contains a deep explanation of all processes including</text>
<text class="ft" x="920" y="569.100" style="font-size:2.400px">inputs, tools &amp; techniques and outputs that are not listed in this flow.</text>
<text class="ft" x="920" y="574" style="font-size:2.400px">Adaptation: Ricardo Viana Vargas</text>
<text class="ft" x="920" y="577.700" style="font-size:2.400px">Graphic Design: Sérgio Alves / Izis Jardim</text>
<rect x="1124.300" y="558.600" width="55.700" height="23" fill="#e8e8ec"/>
<text class="ft" x="1127" y="565" style="font-size:3.200px">Become a member of the Project</text>
<text class="ft" x="1127" y="569.500" style="font-size:3.200px">Management Institute (PMI) and</text>
<text class="ft" x="1127" y="574" style="font-size:3.200px">download the PMBOK® Guide and</text>
<text class="ft" x="1127" y="578.500" style="font-size:3.200px">other standards at:</text>
<text class="fb" x="920" y="589">ricardo-vargas.com</text>
<text class="ft" x="979" y="589" style="font-size:3.400px">Download this processes flow at <tspan font-weight="700">http://rvarg.as/pmboktion</tspan></text>
<text class="fb" x="1141" y="589">www.pmi.org</text>
</g>
</g>

<g id="pdf-attachment">
<path d="M1034.500,656H1059.500L1066.500,663V700H1034.500Z" fill="#f4f4f4" stroke="#a8a8a8" stroke-width="1.200"/>
<path d="M1059.500,656V663H1066.500" fill="#e0e0e0" stroke="#a8a8a8"/>
<path d="M1038,661H1056M1038,666H1062M1038,696H1062" stroke="#c0c0c0" stroke-width="1.200"/>
<rect x="1030.300" y="671" width="39.700" height="21.300" fill="#e60023"/>
<text x="1050" y="687" font-size="15" font-weight="700" fill="#fff" text-anchor="middle" style="font-family:'DejaVu Sans',sans-serif">PDF</text>
<text x="961" y="726" font-size="18.200" fill="#2e2e2e" style="font-family:'Noto Sans',sans-serif">PMBOK (PMBOK.pdf)</text>
</g>
<rect id="bottom-edge" y="781" width="1217" height="3" fill="#1c1c1e"/>
</svg>
